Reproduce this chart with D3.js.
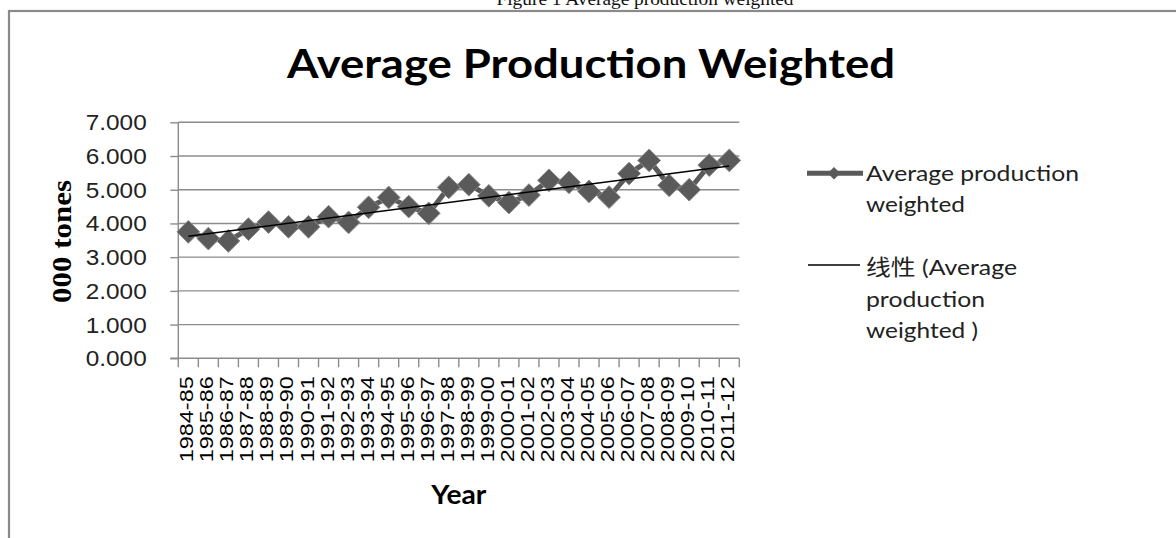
<!DOCTYPE html>
<html>
<head>
<meta charset="utf-8">
<script src="https://cdn.jsdelivr.net/npm/d3@7"></script>
<style>
  html, body { margin: 0; padding: 0; background: #fff; }
  svg { display: block; }
</style>
</head>
<body>
<script>
// Season labels along the x axis
const seasons = [
  "1984-85","1985-86","1986-87","1987-88","1988-89","1989-90","1990-91",
  "1991-92","1992-93","1993-94","1994-95","1995-96","1996-97","1997-98",
  "1998-99","1999-00","2000-01","2001-02","2002-03","2003-04","2004-05",
  "2005-06","2006-07","2007-08","2008-09","2009-10","2010-11","2011-12"
];

// Average production weighted, in 000 tones
const production = [
  3.75, 3.55, 3.48, 3.83, 4.04, 3.90, 3.90, 4.20, 4.03, 4.48, 4.77, 4.50, 4.30, 5.07,
  5.15, 4.82, 4.62, 4.84, 5.28, 5.22, 4.95, 4.78, 5.48, 5.87, 5.13, 5.00, 5.73, 5.87
];

const yTicks = [0, 1, 2, 3, 4, 5, 6, 7];

const seriesName = "Average production weighted";
const trendLines = ["线性 (Average", "production", "weighted )"];

const W = 1176, H = 538;
const plot = { left: 178.3, right: 739.3, top: 122.3, bottom: 358.3 };

const svg = d3.select("body").append("svg")
  .attr("width", W).attr("height", H);

// Figure caption, running off the top edge of the page
svg.append("text")
  .attr("x", 645).attr("y", 5)
  .attr("text-anchor", "middle")
  .attr("font-family", "'Liberation Serif', 'Times New Roman', serif")
  .attr("font-size", 19)
  .attr("textLength", 297).attr("lengthAdjust", "spacingAndGlyphs")
  .attr("fill", "#111")
  .text("Figure 1 Average production weighted");

// Chart frame
svg.append("rect")
  .attr("x", 9).attr("y", 11)
  .attr("width", 1300).attr("height", 700)
  .attr("fill", "none")
  .attr("stroke", "#8a8a8a")
  .attr("stroke-width", 2.2);

// Title
svg.append("text")
  .attr("x", 591).attr("y", 78)
  .attr("text-anchor", "middle")
  .attr("font-family", "Lato, 'Open Sans', sans-serif")
  .attr("font-weight", 700)
  .attr("font-size", 41)
  .attr("textLength", 608).attr("lengthAdjust", "spacingAndGlyphs")
  .attr("fill", "#000")
  .text("Average Production Weighted");

const x = d3.scaleBand()
  .domain(seasons)
  .range([plot.left, plot.right])
  .padding(0);

const y = d3.scaleLinear()
  .domain([0, 7])
  .range([plot.bottom, plot.top]);

const cx = d => x(d) + x.bandwidth() / 2;

// Horizontal gridlines
svg.append("g")
  .selectAll("line")
  .data(yTicks.filter(t => t > 0))
  .join("line")
  .attr("x1", plot.left).attr("x2", plot.right)
  .attr("y1", d => y(d)).attr("y2", d => y(d))
  .attr("stroke", "#8c8c8c")
  .attr("stroke-width", 1.4);

// Y axis
const yAxis = svg.append("g")
  .attr("transform", `translate(${plot.left},0)`)
  .call(d3.axisLeft(y).tickValues(yTicks).tickSize(8).tickPadding(0).tickFormat(d3.format(".3f")));
yAxis.select(".domain").attr("stroke", "#8c8c8c").attr("stroke-width", 1.4).attr("d", `M0,${plot.top}V${plot.bottom}`);
yAxis.selectAll(".tick line").attr("stroke", "#8c8c8c").attr("stroke-width", 1.4);
yAxis.selectAll(".tick text")
  .attr("x", -31.6)
  .attr("dy", null)
  .attr("y", 7.5)
  .attr("font-family", "'Liberation Sans', Arial, sans-serif")
  .attr("font-size", 22)
  .attr("textLength", 61).attr("lengthAdjust", "spacingAndGlyphs")
  .attr("fill", "#222");

// X axis with ticks on category boundaries
const xAxis = svg.append("g")
  .attr("transform", `translate(0,${plot.bottom})`)
  .call(d3.axisBottom(x).tickSize(0).tickPadding(0));
xAxis.select(".domain").attr("stroke", "#8c8c8c").attr("stroke-width", 1.4).attr("d", `M${plot.left - 8},0H${plot.right}`);
xAxis.selectAll(".tick text")
  .attr("transform", "rotate(-90)")
  .attr("text-anchor", "end")
  .attr("x", -18)
  .attr("y", 5)
  .attr("dy", null)
  .attr("font-family", "'Liberation Sans', Arial, sans-serif")
  .attr("font-size", 19)
  .attr("textLength", 86).attr("lengthAdjust", "spacingAndGlyphs")
  .attr("fill", "#000");

const boundaries = seasons.map(s => x(s)).concat([x(seasons[seasons.length - 1]) + x.bandwidth()]);
svg.append("g")
  .selectAll("line")
  .data(boundaries)
  .join("line")
  .attr("x1", d => d).attr("x2", d => d)
  .attr("y1", plot.bottom).attr("y2", plot.bottom + 9)
  .attr("stroke", "#8c8c8c")
  .attr("stroke-width", 1.4);

// Axis titles
svg.append("text")
  .attr("transform", `translate(71,241.5) rotate(-90)`)
  .attr("text-anchor", "middle")
  .attr("font-family", "'Liberation Serif', 'Times New Roman', serif")
  .attr("font-weight", 700)
  .attr("font-size", 28)
  .attr("textLength", 123).attr("lengthAdjust", "spacingAndGlyphs")
  .attr("fill", "#000")
  .text("000 tones");

svg.append("text")
  .attr("x", (plot.left + plot.right) / 2).attr("y", 504)
  .attr("text-anchor", "middle")
  .attr("font-family", "Lato, 'Open Sans', sans-serif")
  .attr("font-weight", 700)
  .attr("font-size", 27)
  .attr("textLength", 55).attr("lengthAdjust", "spacingAndGlyphs")
  .attr("fill", "#000")
  .text("Year");

// Series line and diamond markers
const seriesColor = "#5a5a5a";
const pts = seasons.map((s, i) => ({ s, v: production[i] }));

svg.append("path")
  .datum(pts)
  .attr("fill", "none")
  .attr("stroke", seriesColor)
  .attr("stroke-width", 5)
  .attr("stroke-linejoin", "round")
  .attr("d", d3.line().x(d => cx(d.s)).y(d => y(d.v)));

const diamond = d3.symbol().type(d3.symbolDiamond2).size(330);
svg.append("g")
  .selectAll("path")
  .data(pts)
  .join("path")
  .attr("transform", d => `translate(${cx(d.s)},${y(d.v)})`)
  .attr("d", diamond)
  .attr("fill", seriesColor)
  .attr("stroke", "#8a8a8a")
  .attr("stroke-width", 1);

// Linear trend (least squares over category index)
const n = production.length;
const idx = d3.range(n);
const mx = d3.mean(idx), my = d3.mean(production);
const slope = d3.sum(idx, i => (i - mx) * (production[i] - my)) / d3.sum(idx, i => (i - mx) ** 2);
const icpt = my - slope * mx;
svg.append("line")
  .attr("x1", cx(seasons[0])).attr("y1", y(icpt))
  .attr("x2", cx(seasons[n - 1])).attr("y2", y(icpt + slope * (n - 1)))
  .attr("stroke", "#000")
  .attr("stroke-width", 1.5);

// Legend
const legendFont = "Lato, 'Open Sans', 'Noto Sans CJK SC', sans-serif";
const lg = svg.append("g");
lg.append("line")
  .attr("x1", 807).attr("x2", 863).attr("y1", 173.3).attr("y2", 173.3)
  .attr("stroke", seriesColor).attr("stroke-width", 5);
lg.append("path")
  .attr("transform", "translate(834,173.3)")
  .attr("d", d3.symbol().type(d3.symbolDiamond2).size(100))
  .attr("fill", seriesColor);
lg.append("line")
  .attr("x1", 808).attr("x2", 860).attr("y1", 265).attr("y2", 265)
  .attr("stroke", "#000").attr("stroke-width", 1.5);

const legendRows = [
  { t: "Average production", y: 180.7, w: 213 },
  { t: "weighted", y: 211.7, w: 99 },
  { t: trendLines[0], y: 275, w: 151 },
  { t: trendLines[1], y: 306.5, w: 119 },
  { t: trendLines[2], y: 338, w: 112 }
];
lg.selectAll("text")
  .data(legendRows)
  .join("text")
  .attr("x", 866).attr("y", d => d.y)
  .attr("font-family", legendFont)
  .attr("font-size", 22)
  .attr("textLength", d => d.w).attr("lengthAdjust", "spacingAndGlyphs")
  .attr("fill", "#222")
  .text(d => d.t);
</script>
</body>
</html>
